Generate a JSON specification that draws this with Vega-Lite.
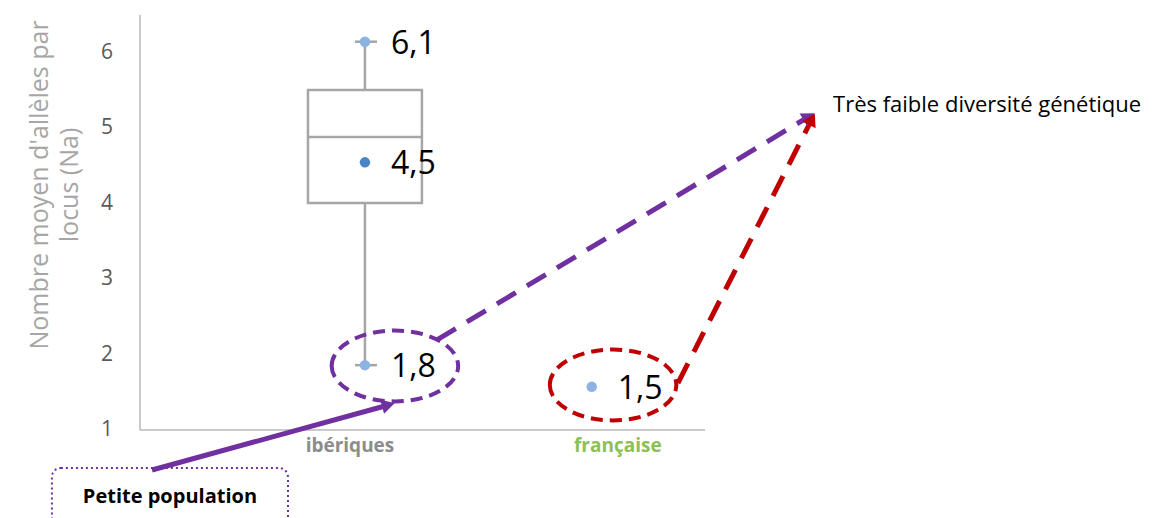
{
  "$schema": "https://vega.github.io/schema/vega-lite/v6.json",
  "width": 1171,
  "height": 518,
  "autosize": {"type": "fit", "contains": "padding"},
  "padding": 0,
  "background": "white",
  "config": {"view": {"stroke": null}},
  "resolve": {"scale": {"color": "independent"}},
  "layer": [
    {
      "data": {"values": [
        {"x": 0, "y": 1, "x2": 0, "y2": 6.504},
        {"x": 0, "y": 1, "x2": 2.489, "y2": 1}
      ]},
      "mark": {"type": "rule", "color": "#b8b8b8", "strokeWidth": 1.5},
      "encoding": {
        "x": {"field": "x", "type": "quantitative", "scale": {"domain": [-0.6167, 4.5419], "nice": false, "zero": false}, "axis": null},
        "y": {"field": "y", "type": "quantitative", "scale": {"domain": [-0.167, 6.703], "nice": false, "zero": false}, "axis": null},
        "x2": {"field": "x2"},
        "y2": {"field": "y2"}
      }
    },
    {
      "data": {"values": [
        {"x": -0.119, "y": 1, "t": "1"},
        {"x": -0.119, "y": 2, "t": "2"},
        {"x": -0.119, "y": 3, "t": "3"},
        {"x": -0.119, "y": 4, "t": "4"},
        {"x": -0.119, "y": 5, "t": "5"},
        {"x": -0.119, "y": 6, "t": "6"}
      ]},
      "mark": {"type": "text", "align": "right", "baseline": "middle", "font": "Open Sans", "fontSize": 21, "color": "#595959"},
      "encoding": {
        "x": {"field": "x", "type": "quantitative"},
        "y": {"field": "y", "type": "quantitative"},
        "text": {"field": "t"}
      }
    },
    {
      "data": {"values": [
        {"x": -0.44, "y": 4.25, "t": "Nombre moyen d'allèles par\nlocus (Na)"}
      ]},
      "mark": {"type": "text", "align": "center", "baseline": "middle", "angle": 270, "lineBreak": "\n", "lineHeight": 30, "font": "Open Sans", "fontSize": 25, "color": "#a6a6a6"},
      "encoding": {
        "x": {"field": "x", "type": "quantitative"},
        "y": {"field": "y", "type": "quantitative"},
        "text": {"field": "t"}
      }
    },
    {
      "data": {"values": [
        {"x": 0.925, "y": 0.79, "t": "ibériques", "c": "ibériques"},
        {"x": 2.105, "y": 0.79, "t": "française", "c": "française"}
      ]},
      "mark": {"type": "text", "align": "center", "baseline": "middle", "font": "Open Sans", "fontWeight": "bold", "fontSize": 19},
      "encoding": {
        "x": {"field": "x", "type": "quantitative"},
        "y": {"field": "y", "type": "quantitative"},
        "text": {"field": "t"},
        "color": {"field": "c", "type": "nominal", "scale": {"domain": ["ibériques", "française"], "range": ["#8c8c8c", "#8cc152"]}, "legend": null}
      }
    },
    {
      "data": {"values": [
        {"x": 0.991, "y": 1.86, "x2": 0.991, "y2": 4.01},
        {"x": 0.991, "y": 5.51, "x2": 0.991, "y2": 6.15},
        {"x": 0.947, "y": 6.15, "x2": 1.044, "y2": 6.15},
        {"x": 0.947, "y": 1.86, "x2": 1.044, "y2": 1.86},
        {"x": 0.74, "y": 4.886, "x2": 1.242, "y2": 4.886}
      ]},
      "mark": {"type": "rule", "color": "#a6a6a6", "strokeWidth": 2.5},
      "encoding": {
        "x": {"field": "x", "type": "quantitative"},
        "y": {"field": "y", "type": "quantitative"},
        "x2": {"field": "x2"},
        "y2": {"field": "y2"}
      }
    },
    {
      "data": {"values": [
        {"x": 0.74, "x2": 1.242, "q1": 4.01, "q3": 5.51}
      ]},
      "mark": {"type": "rect", "fill": "white", "fillOpacity": 0, "stroke": "#a6a6a6", "strokeWidth": 2.5},
      "encoding": {
        "x": {"field": "x", "type": "quantitative"},
        "x2": {"field": "x2"},
        "y": {"field": "q1", "type": "quantitative"},
        "y2": {"field": "q3"}
      }
    },
    {
      "data": {"values": [
        {"x": 0.991, "y": 6.15, "k": "ext", "t": "6,1"},
        {"x": 0.991, "y": 4.55, "k": "mean", "t": "4,5"},
        {"x": 0.991, "y": 1.86, "k": "ext", "t": "1,8"},
        {"x": 1.99, "y": 1.574, "k": "ext", "t": "1,5"}
      ]},
      "layer": [
        {
          "mark": {"type": "point", "shape": "circle", "filled": true, "size": 110, "opacity": 1},
          "encoding": {
            "x": {"field": "x", "type": "quantitative"},
            "y": {"field": "y", "type": "quantitative"},
            "color": {"field": "k", "type": "nominal", "scale": {"domain": ["ext", "mean"], "range": ["#8db3e2", "#4a86c5"]}, "legend": null}
          }
        },
        {
          "mark": {"type": "text", "align": "left", "baseline": "middle", "dx": 26, "dy": 2, "font": "Open Sans", "fontSize": 32, "color": "#000000"},
          "encoding": {
            "x": {"field": "x", "type": "quantitative"},
            "y": {"field": "y", "type": "quantitative"},
            "text": {"field": "t"}
          }
        }
      ]
    },
    {
      "data": {"values": [
        {"x": 1.123, "y": 1.849, "g": "purple"},
        {"x": 2.084, "y": 1.597, "g": "red"}
      ]},
      "mark": {"type": "point", "shape": "M -1 0 A 1 0.56 0 1 1 1 0 A 1 0.56 0 1 1 -1 0 Z", "filled": false, "size": 16000, "strokeWidth": 4, "strokeDash": [12, 7], "opacity": 1},
      "encoding": {
        "x": {"field": "x", "type": "quantitative"},
        "y": {"field": "y", "type": "quantitative"},
        "color": {"field": "g", "type": "nominal", "scale": {"domain": ["purple", "red"], "range": ["#7030a0", "#c00000"]}, "legend": null}
      }
    },
    {
      "data": {"values": [
        {"x": 1.308, "y": 2.194, "x2": 2.947, "y2": 5.157, "g": "purple"},
        {"x": 2.37, "y": 1.623, "x2": 2.96, "y2": 5.122, "g": "red"}
      ]},
      "mark": {"type": "rule", "strokeWidth": 5, "strokeDash": [22, 13]},
      "encoding": {
        "x": {"field": "x", "type": "quantitative"},
        "y": {"field": "y", "type": "quantitative"},
        "x2": {"field": "x2"},
        "y2": {"field": "y2"},
        "color": {"field": "g", "type": "nominal", "scale": {"domain": ["purple", "red"], "range": ["#7030a0", "#c00000"]}, "legend": null}
      }
    },
    {
      "data": {"values": [
        {"x": 0.053, "y": 0.47, "x2": 1.079, "y2": 1.318}
      ]},
      "mark": {"type": "rule", "strokeWidth": 5, "color": "#7030a0"},
      "encoding": {
        "x": {"field": "x", "type": "quantitative"},
        "y": {"field": "y", "type": "quantitative"},
        "x2": {"field": "x2"},
        "y2": {"field": "y2"}
      }
    },
    {
      "data": {"values": [
        {"x": 2.947, "y": 5.157, "a": 59, "g": "purple"},
        {"x": 2.96, "y": 5.122, "a": 27, "g": "red"},
        {"x": 1.094, "y": 1.333, "a": 75, "g": "purple"}
      ]},
      "mark": {"type": "point", "shape": "triangle-up", "filled": true, "size": 220, "opacity": 1},
      "encoding": {
        "x": {"field": "x", "type": "quantitative"},
        "y": {"field": "y", "type": "quantitative"},
        "angle": {"field": "a", "type": "quantitative", "scale": null},
        "color": {"field": "g", "type": "nominal", "scale": {"domain": ["purple", "red"], "range": ["#7030a0", "#c00000"]}, "legend": null}
      }
    },
    {
      "data": {"values": [
        {"x": -0.388, "x2": 0.652, "y": 0.496, "y2": -0.6}
      ]},
      "mark": {"type": "rect", "fill": "white", "fillOpacity": 0, "stroke": "#7030a0", "strokeWidth": 2, "strokeDash": [2, 3], "cornerRadius": 9, "clip": true},
      "encoding": {
        "x": {"field": "x", "type": "quantitative"},
        "x2": {"field": "x2"},
        "y": {"field": "y", "type": "quantitative"},
        "y2": {"field": "y2"}
      }
    },
    {
      "data": {"values": [
        {"x": 0.132, "y": 0.111, "t": "Petite population"}
      ]},
      "mark": {"type": "text", "align": "center", "baseline": "middle", "font": "Open Sans", "fontWeight": "bold", "fontSize": 20, "color": "#000000"},
      "encoding": {
        "x": {"field": "x", "type": "quantitative"},
        "y": {"field": "y", "type": "quantitative"},
        "text": {"field": "t"}
      }
    },
    {
      "data": {"values": [
        {"x": 3.053, "y": 5.31, "t": "Très faible diversité génétique"}
      ]},
      "mark": {"type": "text", "align": "left", "baseline": "middle", "font": "Open Sans", "fontSize": 22, "color": "#000000"},
      "encoding": {
        "x": {"field": "x", "type": "quantitative"},
        "y": {"field": "y", "type": "quantitative"},
        "text": {"field": "t"}
      }
    }
  ]
}
